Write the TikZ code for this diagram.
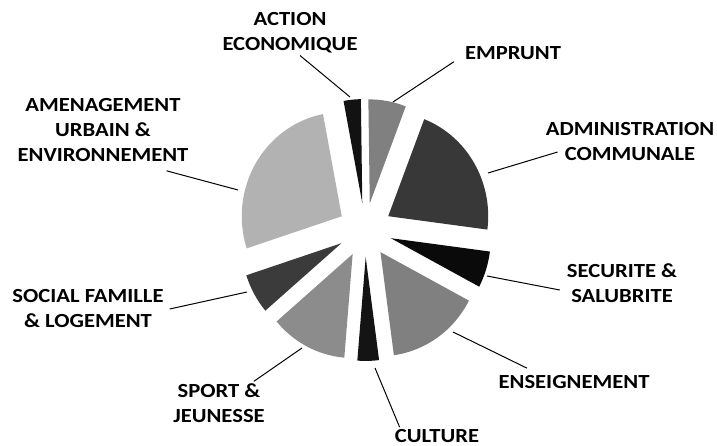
\documentclass[tikz,border=0pt]{standalone}
\usepackage{fontspec}
\newfontfamily\lblfont{Carlito}[FakeStretch=1.13]
\usetikzlibrary{calc}

\definecolor{actioncol}{gray}{0.07}
\definecolor{empruntcol}{gray}{0.50}
\definecolor{admincol}{gray}{0.22}
\definecolor{securitecol}{gray}{0.04}
\definecolor{enseigncol}{gray}{0.50}
\definecolor{culturecol}{gray}{0.08}
\definecolor{sportcol}{gray}{0.55}
\definecolor{socialcol}{gray}{0.23}
\definecolor{amencol}{gray}{0.70}

\begin{document}
\begin{tikzpicture}[x=1pt,y=-1pt,
    lbl/.style={font=\lblfont\bfseries\fontsize{20}{25}\selectfont, align=center, inner sep=2pt},
    leader/.style={line width=1pt}]
  \useasboundingbox (0,0) rectangle (717,446);
  % exploded pie
  \begin{scope}[shift={(365,230)},yscale=-1]
    \foreach \a/\b/\c in {90.8/100.8/actioncol, 68.9/90.8/empruntcol,
        -7.4/68.9/admincol, -27.8/-7.4/securitecol, -82.3/-27.8/enseigncol,
        -94.8/-82.3/culturecol, -139.55/-94.8/sportcol, -162/-139.55/socialcol,
        100.8/198/amencol}
      \fill[\c, shift={({(\a+\b)/2}:27)}] (0,0) -- (\a:100 and 104)
        arc[start angle=\a, end angle=\b, x radius=100, y radius=104] -- cycle;
  \end{scope}
  % labels
  \node[lbl] (action) at (290,33) {ACTION\\ECONOMIQUE};
  \node[lbl] (emprunt) at (513,53) {EMPRUNT};
  \node[lbl] (admin) at (630,142) {ADMINISTRATION\\COMMUNALE};
  \node[lbl] (securite) at (622,283) {SECURITE \&\\SALUBRITE};
  \node[lbl] (enseign) at (574,382) {ENSEIGNEMENT};
  \node[lbl] (culture) at (437,436) {CULTURE};
  \node[lbl] (sport) at (219,403) {SPORT \&\\JEUNESSE};
  \node[lbl] (social) at (88,309) {SOCIAL FAMILLE\\\& LOGEMENT};
  \node[lbl] (amen) at (103,130) {AMENAGEMENT\\URBAIN \&\\ENVIRONNEMENT};
  % leader ends on the slices
  \coordinate (p-action) at (350,97);
  \coordinate (p-emprunt) at (393,102);
  \coordinate (p-admin) at (488,173);
  \coordinate (p-securite) at (487,276);
  \coordinate (p-enseign) at (453,332);
  \coordinate (p-culture) at (375,368);
  \coordinate (p-sport) at (302,348);
  \coordinate (p-social) at (247,292);
  \coordinate (p-amen) at (238,190);
  \draw[leader] ([xshift=10pt]action.south) -- (p-action);
  \draw[leader] ([xshift=-9pt]emprunt.south west) -- (p-emprunt);
  \draw[leader] ([shift={(14pt,-10pt)}]admin.west) -- (p-admin);
  \draw[leader] ([shift={(-5pt,-7pt)}]securite.west) -- (p-securite);
  \draw[leader] ([shift={(-47pt,5pt)}]enseign.north) -- (p-enseign);
  \draw[leader] ([xshift=7pt]culture.north west) -- (p-culture);
  \draw[leader] ([xshift=-13pt]sport.north east) -- (p-sport);
  \draw[leader] ([xshift=4pt]social.east) -- (p-social);
  \draw[leader] ([shift={(-24pt,-7pt)}]amen.south east) -- (p-amen);
\end{tikzpicture}
\end{document}
